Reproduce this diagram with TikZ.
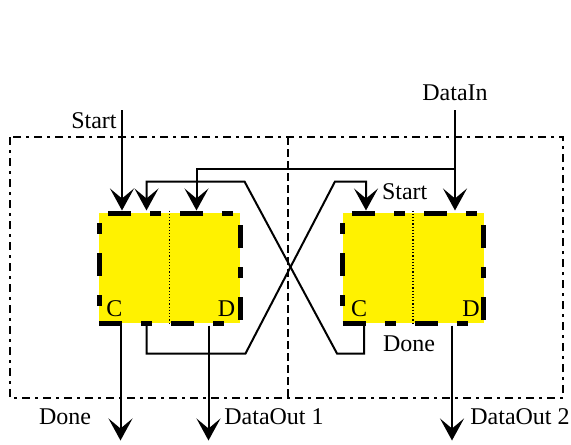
\documentclass[tikz,border=0pt]{standalone}
\usepackage{fontspec}
\setmainfont{Liberation Serif}
\usetikzlibrary{arrows.meta, positioning, calc}

\begin{document}
\begin{tikzpicture}[x=0.5pt, y=-0.5pt, font=\fontsize{12}{14}\selectfont,
        flow/.style={line width=1pt, -{Stealth[length=11pt, width=12pt, inset=5pt]}},
        block/.style={draw, fill=yellow, line width=2.5pt, dash pattern=on 11.5pt off 9.5pt on 5.5pt off 9.5pt,
            minimum width=70.5pt, minimum height=55pt, inner sep=0pt},
        divider/.style={line width=0.6pt, densely dotted},
        region/.style={line width=0.8pt, dash pattern=on 4pt off 2.5pt on 1.5pt off 2.5pt}]
        \useasboundingbox (0,0) rectangle (571,444);

        % Enclosing regions
        \draw[region] (10,137) rectangle (563,398);
        \draw[line width=0.9pt, dash pattern=on 4pt off 2pt] (288,137) -- (288,398);

        % Handshake blocks
        \node[block] (lbox) at (169.5,268) {};
        \node[block] (rbox) at (413,268) {};
        \draw[divider] (lbox.north) -- (lbox.south);
        \draw[divider] (rbox.north) -- (rbox.south);
        \node (lC) at ($(lbox.south west)+(18,-17)$) {C};
        \node (lD) at ($(lbox.south east)+(-16,-17)$) {D};
        \node (rC) at ($(rbox.south west)+(19,-17)$) {C};
        \node (rD) at ($(rbox.south east)+(-15,-17)$) {D};

        % Inputs
        \coordinate (startin) at (122,110);
        \coordinate (datain) at (455,110);
        \coordinate (split) at ($(datain)+(0,59)$);
        \draw[flow] (startin) -- (startin |- lbox.north);
        \node[anchor=north east, inner sep=1pt, xshift=-1.5pt] (startlbl) at (startin) {Start};
        \draw[flow] (datain) -- (datain |- rbox.north);
        \node[above=1pt of datain] (datalbl) {DataIn};
        \draw[flow] (split) -| ($(lbox.north west)+(100,0)$);

        % Crossed handshake wires
        \draw[flow] ($(rbox.south west)+(24,0)$) -- ++(0,28) -- ++(-27,0)
            -- ($(lbox.north east)+(2,-29)$) -| ($(lbox.north west)+(50,0)$);
        \draw[flow] ($(lbox.south west)+(50,0)$) -- ++(0,28) -- ($(lbox.south east)+(3,28)$)
            -- ($(rbox.north west)+(-5,-29)$) -| ($(rbox.north west)+(26,0)$);
        \node[anchor=west] (rstart) at ($(rbox.north west)+(35,-19)$) {Start};
        \node (rdone) at ($(rbox.south west)+(69,18)$) {Done};

        % Outputs
        \draw[flow] ($(lbox.south west)+(24,0)$) -- ++(0,115) coordinate (doneout);
        \draw[flow] ($(lbox.south west)+(112,0)$) -- ++(0,115) coordinate (dout1);
        \draw[flow] ($(rbox.south west)+(112,0)$) -- ++(0,115) coordinate (dout2);
        \node (donelbl) at (65,417) {Done};
        \node (dout1lbl) at (274,417) {DataOut 1};
        \node (dout2lbl) at (520,417) {DataOut 2};
    \end{tikzpicture}
\end{document}
